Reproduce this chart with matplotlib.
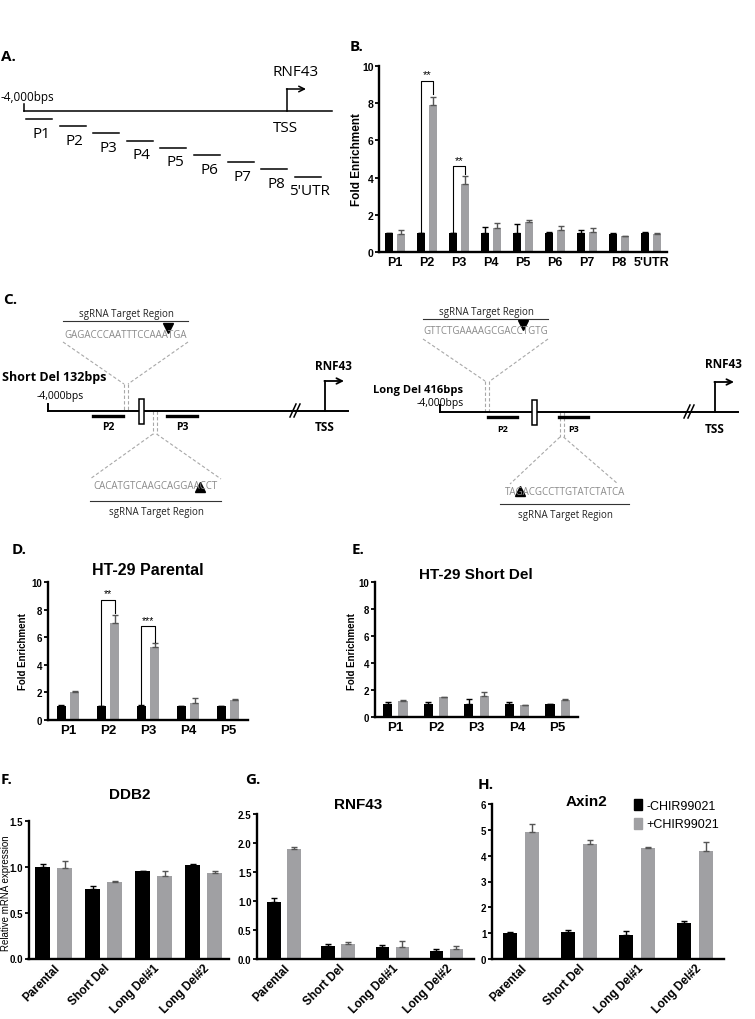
import numpy as np
import matplotlib
matplotlib.use("Agg")
import matplotlib.pyplot as plt
from matplotlib.patches import Patch, Rectangle

W, H = 755, 1020
BLACK = "#000000"
GRAY = "#a0a0a3"
DIA = "Open Sans"

plt.rcParams["font.family"] = ["Liberation Sans", "DejaVu Sans"]

# ---------------- data ----------------
A_PRIMERS = ["P1", "P2", "P3", "P4", "P5", "P6", "P7", "P8", "5'UTR"]

B_SITES = ["P1", "P2", "P3", "P4", "P5", "P6", "P7", "P8", "5'UTR"]
B_IGG = [1.0, 1.0, 1.0, 1.0, 1.0, 1.0, 1.0, 0.98, 1.0]
B_IGG_ERR = [0.03, 0.0, 0.0, 0.33, 0.5, 0.1, 0.2, 0.03, 0.08]
B_DDB2 = [0.98, 7.9, 3.65, 1.3, 1.6, 1.18, 1.06, 0.85, 0.96]
B_DDB2_ERR = [0.22, 0.45, 0.45, 0.25, 0.12, 0.2, 0.22, 0.0, 0.04]
B_SIG = [(1, "**", 9.2), (2, "**", 4.6)]

D_SITES = ["P1", "P2", "P3", "P4", "P5"]
D_IGG = [1.0, 1.0, 1.0, 1.0, 1.0]
D_IGG_ERR = [0.08, 0.05, 0.12, 0.05, 0.05]
D_DDB2 = [2.0, 7.0, 5.3, 1.2, 1.45]
D_DDB2_ERR = [0.12, 0.6, 0.25, 0.4, 0.05]
D_SIG = [(1, "**", 8.7), (2, "***", 6.8)]

E_IGG = [0.98, 1.0, 1.0, 0.98, 0.98]
E_IGG_ERR = [0.1, 0.1, 0.33, 0.1, 0.02]
E_DDB2 = [1.2, 1.46, 1.58, 0.88, 1.28]
E_DDB2_ERR = [0.03, 0.05, 0.25, 0.03, 0.03]

LINES = ["Parental", "Short Del", "Long Del#1", "Long Del#2"]
F_MINUS = [1.0, 0.76, 0.95, 1.02]
F_MINUS_ERR = [0.036, 0.03, 0.01, 0.01]
F_PLUS = [0.99, 0.83, 0.9, 0.93]
F_PLUS_ERR = [0.07, 0.02, 0.06, 0.03]

G_MINUS = [0.99, 0.22, 0.2, 0.14]
G_MINUS_ERR = [0.06, 0.04, 0.04, 0.03]
G_PLUS = [1.9, 0.26, 0.21, 0.17]
G_PLUS_ERR = [0.03, 0.04, 0.1, 0.05]

H_MINUS = [0.99, 1.03, 0.94, 1.38]
H_MINUS_ERR = [0.04, 0.1, 0.15, 0.1]
H_PLUS = [4.91, 4.45, 4.29, 4.2]
H_PLUS_ERR = [0.3, 0.14, 0.04, 0.32]

fig = plt.figure(figsize=(W / 100, H / 100), dpi=100)

# overlay axes in pixel coordinates for the schematic parts
dg = fig.add_axes([0, 0, 1, 1])
dg.set_xlim(0, W)
dg.set_ylim(H, 0)
dg.axis("off")


def add_ax(x0, y0, x1, y1):
    return fig.add_axes([x0 / W, 1 - y1 / H, (x1 - x0) / W, (y1 - y0) / H])


def chart(ax, cats, a, ae, b, be, ylim, yticks, ytl, w, off, tick_fs, cat_fs, rot=False):
    x = np.arange(len(cats))
    a, ae, b, be = map(np.asarray, (a, ae, b, be))
    ax.bar(x - off, a, w, color=BLACK, zorder=2)
    ax.bar(x + off, b, w, color=GRAY, zorder=2)
    ax.errorbar(x - off, a, yerr=[np.zeros_like(ae), ae], fmt="none",
                ecolor=BLACK, elinewidth=1, capsize=2, capthick=1, zorder=3)
    ax.errorbar(x + off, b, yerr=[np.zeros_like(be), be], fmt="none",
                ecolor="#555555", elinewidth=1, capsize=2, capthick=1, zorder=3)
    ax.set_xlim(-0.5, len(cats) - 0.5)
    ax.set_ylim(*ylim)
    ax.set_yticks(yticks)
    ax.set_yticklabels(ytl, fontsize=tick_fs, fontweight="bold")
    ax.set_xticks(x)
    if rot:
        ax.set_xticklabels(cats, fontsize=cat_fs, fontweight="bold", rotation=45,
                           ha="right", rotation_mode="anchor")
        ax.tick_params(axis="x", length=0, pad=2)
    else:
        ax.set_xticklabels(cats, fontsize=cat_fs, fontweight="bold")
        ax.tick_params(axis="x", length=0, pad=3)
    ax.tick_params(axis="y", length=3, width=1.3, pad=1)
    for s in ("top", "right"):
        ax.spines[s].set_visible(False)
    for s in ("left", "bottom"):
        ax.spines[s].set_linewidth(1.7)
    ax.patch.set_alpha(0)
    return x


def brackets(ax, x, off, top_vals, top_err, sigs, fs):
    for i, star, yb in sigs:
        xl, xr = x[i] - off, x[i] + off
        yr = top_vals[i] + top_err[i] + 0.12
        ax.plot([xl, xl, xr, xr], [1.05, yb, yb, yr], color=BLACK, lw=0.8, zorder=4)
        ax.text((xl + xr) / 2, yb + 0.1, star, ha="center", va="bottom", fontsize=fs)


def legend(labels, xy, fs, spacing):
    handles = [Patch(color=BLACK), Patch(color=GRAY)]
    dg.legend(handles, labels, loc="upper left", bbox_to_anchor=xy,
              bbox_transform=dg.transData, frameon=False, fontsize=fs,
              handlelength=0.6, handleheight=1.0, handletextpad=0.4,
              labelspacing=spacing, borderpad=0, borderaxespad=0)


def panel_label(x, y, s):
    dg.text(x, y, s, fontsize=11, fontweight="bold", family=DIA, va="center")


# ---------------- A ----------------
panel_label(1, 57, "A.")
dg.text(296, 73, "RNF43", fontsize=11, ha="center", va="center", family=DIA)
dg.text(1, 97, "-4,000bps", fontsize=8.5, va="center", family=DIA)
dg.plot([24, 332], [112, 112], color=BLACK, lw=1.1)
dg.plot([24, 24], [105, 112], color=BLACK, lw=1.1)
dg.plot([287, 287], [112, 90], color=BLACK, lw=1.1)
dg.annotate("", xy=(306, 90), xytext=(286.5, 90),
            arrowprops=dict(arrowstyle="->", lw=1.1, color=BLACK,
                            shrinkA=0, shrinkB=0, mutation_scale=10))
dg.text(285, 128, "TSS", fontsize=11, ha="center", va="center", family=DIA)
for i, name in enumerate(A_PRIMERS):
    x0 = 26 + 33.6 * i
    yy = 120 + 7.2 * i
    dg.plot([x0, x0 + 26], [yy, yy], color=BLACK, lw=1.1)
    dg.text(x0 + 15, yy + 14, name, ha="center", va="center", fontsize=11, family=DIA)

# ---------------- B ----------------
panel_label(350, 47, "B.")
axB = add_ax(379, 67, 667, 253)
xB = chart(axB, B_SITES, B_IGG, B_IGG_ERR, B_DDB2, B_DDB2_ERR, (0, 10),
           [0, 2, 4, 6, 8, 10], ["0", "2", "4", "6", "8", "10"],
           0.24, 0.19, 7.5, 9)
brackets(axB, xB, 0.19, B_DDB2, B_DDB2_ERR, B_SIG, 8)
dg.text(357, 160, "Fold Enrichment", rotation=90, ha="center", va="center",
        fontsize=8.5, fontweight="bold")
legend(["IP:IgG", "IP:DDB2"], (542, 88), 10.5, 0.55)


# ---------------- C ----------------
def seq_block(xc, x0, x1, y_lab, y_line, y_seq, seq, tri, tri_y, marker):
    dg.text(xc, y_lab, "sgRNA Target Region", ha="center", va="center",
            fontsize=7, family=DIA, color="#222222")
    dg.plot([x0, x1], [y_line, y_line], color="#333333", lw=0.8)
    dg.text(xc, y_seq, seq, ha="center", va="center", fontsize=7, family=DIA,
            color="#8a8a8a")
    dg.plot(tri, tri_y, marker=marker, ms=7, color=BLACK, ls="none")


def dashed(xs, ys):
    dg.plot(xs, ys, color="#a8a8a8", lw=0.8, ls=(0, (3, 2)))


def locus(y, x0, x1, box, p2, p3, lab_y, lab_fs, slash, tss, rnf_y):
    dg.plot([x0, x1], [y, y], color=BLACK, lw=1.4)
    dg.plot([x0, x0], [y - 7, y], color=BLACK, lw=1.4)
    dg.add_patch(Rectangle((box, y - 12), 5, 25, facecolor="white",
                           edgecolor=BLACK, lw=1.1, zorder=3))
    for (a, b), name in ((p2, "P2"), (p3, "P3")):
        dg.plot([a, b], [y + 5, y + 5], color=BLACK, lw=2.4)
        dg.text((a + b) / 2, lab_y, name, ha="center", va="center",
                fontsize=lab_fs, fontweight="bold", family=DIA)
    for d in (0, 4):
        dg.plot([slash - 3 + d, slash + 3 + d], [y + 6, y - 7], color=BLACK, lw=1.1)
    dg.plot([tss, tss], [y, y - 30], color=BLACK, lw=1.3)
    dg.annotate("", xy=(tss + 19, y - 30), xytext=(tss - 0.6, y - 30),
                arrowprops=dict(arrowstyle="->", lw=1.3, color=BLACK,
                                shrinkA=0, shrinkB=0, mutation_scale=10))
    dg.text(tss + 8, rnf_y, "RNF43", ha="center", va="center", fontsize=8.5,
            fontweight="bold", family=DIA)
    dg.text(tss, lab_y, "TSS", ha="center", va="center", fontsize=8.5,
            fontweight="bold", family=DIA)


panel_label(3, 300, "C.")
# left: short deletion
seq_block(126, 63, 188, 315, 322, 336, "GAGACCCAATTTCCAAATGA", 168, 329, "v")
dashed([63, 124], [343, 385]); dashed([188, 128], [343, 385])
dashed([124, 124], [385, 412]); dashed([128, 128], [385, 412])
dashed([153, 153], [412, 435]); dashed([156.5, 156.5], [412, 435])
dashed([153, 90], [435, 480]); dashed([156.5, 221], [435, 480])
seq_block(156, 90, 221, 513, 502, 487, "CACATGTCAAGCAGGAACCT", 200, 488, "^")
locus(412, 48, 348, 139, (93, 123), (167, 197), 428, 7.5, 293, 325, 367)
dg.text(2, 378, "Short Del 132bps", fontsize=9, fontweight="bold", family=DIA,
        va="center")
dg.text(60, 397, "-4,000bps", fontsize=7.5, family=DIA, ha="center", va="center")

# right: long deletion
seq_block(486, 423, 548, 313, 320, 332, "GTTCTGAAAAGCGACCTGTG", 523, 326, "v")
dashed([423, 485], [340, 382]); dashed([548, 490], [340, 382])
dashed([485, 485], [382, 413]); dashed([489, 489], [382, 413])
dashed([560, 560], [413, 438]); dashed([563.5, 563.5], [413, 438])
dashed([560, 510], [438, 485]); dashed([563.5, 618], [438, 485])
seq_block(565, 500, 629, 516, 505, 493, "TAGACGCCTTGTATCTATCA", 520, 492, "^")
locus(413, 440, 738, 532, (488, 517), (559, 588), 430, 6.5, 687, 715, 365)
dg.text(463, 391, "Long Del 416bps", fontsize=8, fontweight="bold", family=DIA,
        ha="right", va="center")
dg.text(440, 404, "-4,000bps", fontsize=7.5, family=DIA, ha="center", va="center")

# ---------------- D ----------------
panel_label(12, 550, "D.")
axD = add_ax(48, 583, 248, 721)
xD = chart(axD, D_SITES, D_IGG, D_IGG_ERR, D_DDB2, D_DDB2_ERR, (0, 10),
           [0, 2, 4, 6, 8, 10], ["0", "2", "4", "6", "8", "10"],
           0.225, 0.17, 7, 9.5)
brackets(axD, xD, 0.17, D_DDB2, D_DDB2_ERR, D_SIG, 7.5)
dg.text(148, 571, "HT-29 Parental", ha="center", va="center", fontsize=11.5,
        fontweight="bold")
dg.text(23, 652, "Fold Enrichment", rotation=90, ha="center", va="center",
        fontsize=7, fontweight="bold")
legend(["IP:IgG", "IP:DDB2"], (184, 604), 8.5, 0.35)

# ---------------- E ----------------
panel_label(352, 550, "E.")
axE = add_ax(375, 583, 578, 718)
chart(axE, D_SITES, E_IGG, E_IGG_ERR, E_DDB2, E_DDB2_ERR, (0, 10),
      [0, 2, 4, 6, 8, 10], ["0", "2", "4", "6", "8", "10"],
      0.225, 0.19, 7, 9.5)
dg.text(476, 575, "HT-29 Short Del", ha="center", va="center", fontsize=11,
        fontweight="bold")
dg.text(352, 652, "Fold Enrichment", rotation=90, ha="center", va="center",
        fontsize=7, fontweight="bold")
legend(["IP:IgG", "IP:DDB2"], (521, 605), 7.5, 0.45)

# ---------------- F ----------------
panel_label(1, 780, "F.")
axF = add_ax(28.5, 822, 228.5, 959.5)
chart(axF, LINES, F_MINUS, F_MINUS_ERR, F_PLUS, F_PLUS_ERR, (0, 1.5),
      [0, 0.5, 1.0, 1.5], ["0.0", "0.5", "1.0", "1.5"], 0.3, 0.22, 7, 8.5, rot=True)
dg.text(130, 795, "DDB2", ha="center", va="center", fontsize=11, fontweight="bold")
dg.text(6, 893, "Relative mRNA expression", rotation=90, ha="center", va="center",
        fontsize=7)

# ---------------- G ----------------
panel_label(245, 780, "G.")
axG = add_ax(257, 815, 473.5, 960)
chart(axG, LINES, G_MINUS, G_MINUS_ERR, G_PLUS, G_PLUS_ERR, (0, 2.5),
      [0, 0.5, 1.0, 1.5, 2.0, 2.5], ["0.0", "0.5", "1.0", "1.5", "2.0", "2.5"],
      0.25, 0.185, 7, 8.5, rot=True)
dg.text(358, 805, "RNF43", ha="center", va="center", fontsize=11, fontweight="bold")

# ---------------- H ----------------
panel_label(478, 785, "H.")
axH = add_ax(492, 805, 724, 960)
chart(axH, LINES, H_MINUS, H_MINUS_ERR, H_PLUS, H_PLUS_ERR, (0, 6),
      [0, 1, 2, 3, 4, 5, 6], ["0", "1", "2", "3", "4", "5", "6"],
      0.24, 0.19, 7, 8.5, rot=True)
dg.text(587, 802, "Axin2", ha="center", va="center", fontsize=11, fontweight="bold")
legend(["-CHIR99021", "+CHIR99021"], (634, 800), 9, 0.45)

fig.savefig("out.png", dpi=100)
